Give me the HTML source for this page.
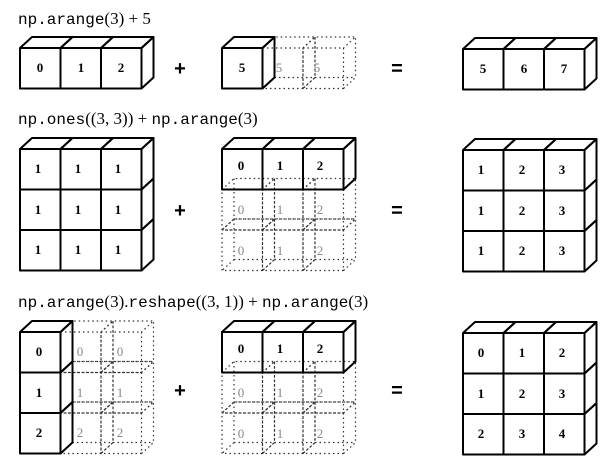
<!DOCTYPE html>
<html><head><meta charset="utf-8"><style>
html,body{margin:0;padding:0;background:#fff;}
svg{display:block;}
.t{font-family:"Liberation Mono",monospace;font-size:16px;fill:#000;}
.s{font-family:"Liberation Serif",serif;font-size:17px;}
.n{font-family:"Liberation Serif",serif;font-size:13px;font-weight:bold;text-anchor:middle;fill:#000;}
.g{font-family:"Liberation Serif",serif;font-size:13px;text-anchor:middle;fill:#888;}
.op{font-family:"Liberation Sans",sans-serif;font-size:20px;font-weight:bold;text-anchor:middle;fill:#000;}
</style></head><body>
<svg width="616" height="464" viewBox="0 0 616 464" xmlns="http://www.w3.org/2000/svg">
<defs>
<path id="F" d="M0,0 h40.5 v40.5 h-40.5 Z" fill="none" stroke="#000" stroke-width="2" stroke-linejoin="round"/>
<path id="T" d="M0,0 l12,-11 h40.5 l-12,11" fill="none" stroke="#000" stroke-width="2" stroke-linejoin="round"/>
<path id="R" d="M40.5,0 l12,-11 v40.5 l-12,11" fill="none" stroke="#000" stroke-width="2" stroke-linejoin="round"/>
<path id="h" d="M0,0 h40.5 v40.5 h-40.5 Z M0,0 l12,-11 h40.5 l-12,11 M40.5,40.5 l12,-11 v-40.5 M12,-11 v40.5 h40.5 M12,29.5 l-12,11" fill="none" stroke="#333" stroke-width="1.2" stroke-dasharray="1.5,3"/>
</defs>

<text class="t" x="18" y="24">np.arange<tspan class="s">(3) + 5</tspan></text>
<text class="t" x="18" y="124">np.ones<tspan class="s">((3, 3)) + </tspan>np.arange<tspan class="s">(3)</tspan></text>
<text class="t" x="18" y="307">np.arange<tspan class="s">(3).</tspan>reshape<tspan class="s">((3, 1)) + </tspan>np.arange<tspan class="s">(3)</tspan></text>

<text class="op" x="180" y="75">+</text>
<text class="op" x="397" y="75">=</text>
<text class="op" x="180" y="217">+</text>
<text class="op" x="397" y="217">=</text>
<text class="op" x="180" y="397">+</text>
<text class="op" x="397" y="397">=</text>

<!-- ROW 1 -->
<use href="#F" x="20" y="48"/><use href="#F" x="60.5" y="48"/><use href="#F" x="101" y="48"/>
<use href="#T" x="20" y="48"/><use href="#T" x="60.5" y="48"/><use href="#T" x="101" y="48"/>
<use href="#R" x="101" y="48"/>
<text class="n" x="40" y="72">0</text><text class="n" x="81" y="72">1</text><text class="n" x="121" y="72">2</text>
<use href="#h" x="262.5" y="48"/><use href="#h" x="303" y="48"/>
<use href="#F" x="222" y="48"/><use href="#T" x="222" y="48"/><use href="#R" x="222" y="48"/>
<text class="n" x="242" y="72">5</text>
<text class="g" x="279" y="72">5</text><text class="g" x="317" y="72">5</text>
<use href="#F" x="463" y="49"/><use href="#F" x="503.5" y="49"/><use href="#F" x="544" y="49"/>
<use href="#T" x="463" y="49"/><use href="#T" x="503.5" y="49"/><use href="#T" x="544" y="49"/>
<use href="#R" x="544" y="49"/>
<text class="n" x="483" y="73">5</text><text class="n" x="524" y="73">6</text><text class="n" x="564" y="73">7</text>

<!-- ROW 2 -->
<g>
<use href="#F" x="20" y="149"/><use href="#F" x="60.5" y="149"/><use href="#F" x="101" y="149"/>
<use href="#F" x="20" y="189.5"/><use href="#F" x="60.5" y="189.5"/><use href="#F" x="101" y="189.5"/>
<use href="#F" x="20" y="230"/><use href="#F" x="60.5" y="230"/><use href="#F" x="101" y="230"/>
<use href="#T" x="20" y="149"/><use href="#T" x="60.5" y="149"/><use href="#T" x="101" y="149"/>
<use href="#R" x="101" y="149"/><use href="#R" x="101" y="189.5"/><use href="#R" x="101" y="230"/>
<text class="n" x="38" y="173">1</text><text class="n" x="78" y="173">1</text><text class="n" x="118" y="173">1</text>
<text class="n" x="38" y="214">1</text><text class="n" x="78" y="214">1</text><text class="n" x="118" y="214">1</text>
<text class="n" x="38" y="254">1</text><text class="n" x="78" y="254">1</text><text class="n" x="118" y="254">1</text>
</g>
<g>
<use href="#h" x="222" y="189.5"/><use href="#h" x="262.5" y="189.5"/><use href="#h" x="303" y="189.5"/>
<use href="#h" x="222" y="230"/><use href="#h" x="262.5" y="230"/><use href="#h" x="303" y="230"/>
<use href="#F" x="222" y="149"/><use href="#F" x="262.5" y="149"/><use href="#F" x="303" y="149"/>
<use href="#T" x="222" y="149"/><use href="#T" x="262.5" y="149"/><use href="#T" x="303" y="149"/>
<use href="#R" x="303" y="149"/>
<text class="n" x="241" y="170">0</text><text class="n" x="280" y="170">1</text><text class="n" x="320" y="170">2</text>
<text class="g" x="241" y="214">0</text><text class="g" x="280" y="214">1</text><text class="g" x="320" y="214">2</text>
<text class="g" x="241" y="255">0</text><text class="g" x="280" y="255">1</text><text class="g" x="320" y="255">2</text>
</g>
<g>
<use href="#F" x="463" y="150"/><use href="#F" x="503.5" y="150"/><use href="#F" x="544" y="150"/>
<use href="#F" x="463" y="190.5"/><use href="#F" x="503.5" y="190.5"/><use href="#F" x="544" y="190.5"/>
<use href="#F" x="463" y="231"/><use href="#F" x="503.5" y="231"/><use href="#F" x="544" y="231"/>
<use href="#T" x="463" y="150"/><use href="#T" x="503.5" y="150"/><use href="#T" x="544" y="150"/>
<use href="#R" x="544" y="150"/><use href="#R" x="544" y="190.5"/><use href="#R" x="544" y="231"/>
<text class="n" x="481" y="174">1</text><text class="n" x="522" y="174">2</text><text class="n" x="562" y="174">3</text>
<text class="n" x="481" y="215">1</text><text class="n" x="522" y="215">2</text><text class="n" x="562" y="215">3</text>
<text class="n" x="481" y="255">1</text><text class="n" x="522" y="255">2</text><text class="n" x="562" y="255">3</text>
</g>

<!-- ROW 3 -->
<g>
<use href="#h" x="60.5" y="332"/><use href="#h" x="101" y="332"/>
<use href="#h" x="60.5" y="372.5"/><use href="#h" x="101" y="372.5"/>
<use href="#h" x="60.5" y="413"/><use href="#h" x="101" y="413"/>
<use href="#F" x="20" y="332"/><use href="#F" x="20" y="372.5"/><use href="#F" x="20" y="413"/>
<use href="#T" x="20" y="332"/>
<use href="#R" x="20" y="332"/><use href="#R" x="20" y="372.5"/><use href="#R" x="20" y="413"/>
<text class="n" x="39" y="356">0</text><text class="n" x="39" y="397">1</text><text class="n" x="39" y="437">2</text>
<text class="g" x="80" y="356">0</text><text class="g" x="80" y="397">1</text><text class="g" x="80" y="437">2</text>
<text class="g" x="120" y="356">0</text><text class="g" x="120" y="397">1</text><text class="g" x="120" y="437">2</text>
</g>
<g>
<use href="#h" x="222" y="372.5"/><use href="#h" x="262.5" y="372.5"/><use href="#h" x="303" y="372.5"/>
<use href="#h" x="222" y="413"/><use href="#h" x="262.5" y="413"/><use href="#h" x="303" y="413"/>
<use href="#F" x="222" y="332"/><use href="#F" x="262.5" y="332"/><use href="#F" x="303" y="332"/>
<use href="#T" x="222" y="332"/><use href="#T" x="262.5" y="332"/><use href="#T" x="303" y="332"/>
<use href="#R" x="303" y="332"/>
<text class="n" x="241" y="353">0</text><text class="n" x="280" y="353">1</text><text class="n" x="320" y="353">2</text>
<text class="g" x="241" y="397">0</text><text class="g" x="280" y="397">1</text><text class="g" x="320" y="397">2</text>
<text class="g" x="241" y="438">0</text><text class="g" x="280" y="438">1</text><text class="g" x="320" y="438">2</text>
</g>
<g>
<use href="#F" x="463" y="333"/><use href="#F" x="503.5" y="333"/><use href="#F" x="544" y="333"/>
<use href="#F" x="463" y="373.5"/><use href="#F" x="503.5" y="373.5"/><use href="#F" x="544" y="373.5"/>
<use href="#F" x="463" y="414"/><use href="#F" x="503.5" y="414"/><use href="#F" x="544" y="414"/>
<use href="#T" x="463" y="333"/><use href="#T" x="503.5" y="333"/><use href="#T" x="544" y="333"/>
<use href="#R" x="544" y="333"/><use href="#R" x="544" y="373.5"/><use href="#R" x="544" y="414"/>
<text class="n" x="481" y="357">0</text><text class="n" x="522" y="357">1</text><text class="n" x="562" y="357">2</text>
<text class="n" x="481" y="398">1</text><text class="n" x="522" y="398">2</text><text class="n" x="562" y="398">3</text>
<text class="n" x="481" y="438">2</text><text class="n" x="522" y="438">3</text><text class="n" x="562" y="438">4</text>
</g>
</svg>
</body></html>
